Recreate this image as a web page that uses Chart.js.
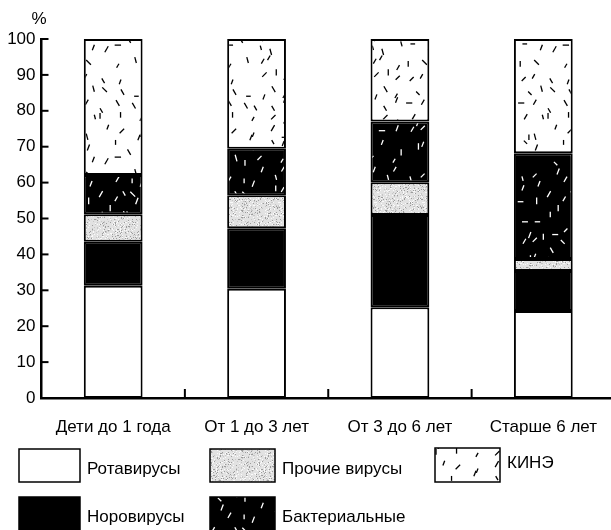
<!DOCTYPE html>
<html>
<head>
<meta charset="utf-8">
<script src="https://cdn.jsdelivr.net/npm/chart.js@4.4.1/dist/chart.umd.min.js"></script>
<style>
  html, body { margin: 0; padding: 0; background: #fff; overflow: hidden; }
  #wrap { width: 620px; height: 530px; position: relative; }
</style>
</head>
<body>
<div id="wrap"><canvas id="myChart"></canvas></div>
<script>
// age groups and % of cases
const categories = ["Дети до 1 года", "От 1 до 3 лет", "От 3 до 6 лет", "Старше 6 лет"];
const rotaviruses = [31.3, 30.4, 25.3, 24.2];
const noroviruses = [12.2, 16.9, 25.7, 11.2];
const otherViruses = [7.7, 9.2, 9.1, 3.3];
const bacterial = [10.9, 12.9, 16.9, 29.5];
const unknown = [37.9, 30.6, 23.0, 31.8];
const yTicks = [0, 10, 20, 30, 40, 50, 60, 70, 80, 90, 100];

const FONT = "'Liberation Sans', Arial, sans-serif";

// small fixed generator so the textures look the same every time
let seed = 23;
function rnd() {
    seed = (seed * 1103515245 + 12345) % 2147483648;
    return seed / 2147483648;
}

// short dashes scattered on a loosely jittered grid
function dashPattern(bg, fg) {
    const cell = 14, n = 8, size = cell * n;
    const c = document.createElement("canvas");
    c.width = size; c.height = size;
    const g = c.getContext("2d");
    g.fillStyle = bg;
    g.fillRect(0, 0, size, size);
    g.strokeStyle = fg;
    g.lineWidth = 1.3;
    const angles = [Math.PI / 2, Math.PI / 4, -Math.PI / 4, 0, Math.PI / 3, -Math.PI / 3, Math.PI / 2.4, -Math.PI / 2.6];
    for (let i = 0; i < n; i++) {
        for (let j = 0; j < n; j++) {
            if (rnd() < 0.12) continue;
            const x = i * cell + 1 + rnd() * (cell - 2);
            const y = j * cell + 1 + rnd() * (cell - 2);
            const a = angles[Math.floor(rnd() * angles.length)];
            const len = 4.5 + rnd() * 2.5;
            for (const dx of [-size, 0, size]) {
                for (const dy of [-size, 0, size]) {
                    g.beginPath();
                    g.moveTo(x + dx - Math.cos(a) * len / 2, y + dy - Math.sin(a) * len / 2);
                    g.lineTo(x + dx + Math.cos(a) * len / 2, y + dy + Math.sin(a) * len / 2);
                    g.stroke();
                }
            }
        }
    }
    return g.createPattern(c, "repeat");
}

function stipplePattern() {
    const c = document.createElement("canvas");
    c.width = 48; c.height = 48;
    const g = c.getContext("2d");
    g.fillStyle = "#e2e2e2";
    g.fillRect(0, 0, 48, 48);
    for (let i = 0; i < 480; i++) {
        g.fillStyle = rnd() < 0.45 ? "#9c9c9c" : "#c6c6c6";
        g.fillRect(Math.floor(rnd() * 48), Math.floor(rnd() * 48), 1, 1);
    }
    for (let i = 0; i < 260; i++) {
        g.fillStyle = "#fafafa";
        g.fillRect(Math.floor(rnd() * 48), Math.floor(rnd() * 48), 1, 1);
    }
    return g.createPattern(c, "repeat");
}

const kinePattern = dashPattern("#ffffff", "#000000");
const bactPattern = dashPattern("#000000", "#ffffff");
const grayPattern = stipplePattern();

// inside ticks, % sign and the two-row legend
const decorPlugin = {
    id: "decor",
    afterDraw(chart) {
        const ctx = chart.ctx;
        const x = chart.scales.x, y = chart.scales.y;
        const area = chart.chartArea;
        ctx.save();
        ctx.strokeStyle = "#000";
        ctx.lineWidth = 2;
        yTicks.forEach((v) => {
            const py = y.getPixelForValue(v);
            ctx.beginPath();
            ctx.moveTo(area.left, py);
            ctx.lineTo(area.left + 7, py);
            ctx.stroke();
        });
        for (let i = 0; i < categories.length; i++) {
            const px = i < categories.length - 1
                ? (x.getPixelForValue(i) + x.getPixelForValue(i + 1)) / 2
                : area.right;
            ctx.beginPath();
            ctx.moveTo(px, area.bottom);
            ctx.lineTo(px, area.bottom - 9);
            ctx.stroke();
        }
        ctx.fillStyle = "#000";
        ctx.font = "17px " + FONT;
        ctx.textAlign = "center";
        ctx.textBaseline = "middle";
        ctx.fillText("%", 39, 19);

        // legend, order as in the picture
        const slots = [
            { ds: 0, bx: 19, by: 449, bw: 61, bh: 33, ty: 469 },
            { ds: 2, bx: 210, by: 449, bw: 65, bh: 33, ty: 469 },
            { ds: 4, bx: 435, by: 448, bw: 65, bh: 34, ty: 463 },
            { ds: 1, bx: 19, by: 497, bw: 61, bh: 36, ty: 517 },
            { ds: 3, bx: 210, by: 497, bw: 65, bh: 36, ty: 517 },
        ];
        ctx.textAlign = "left";
        slots.forEach((s) => {
            const ds = chart.data.datasets[s.ds];
            ctx.fillStyle = ds.backgroundColor;
            ctx.fillRect(s.bx, s.by, s.bw, s.bh);
            ctx.lineWidth = 1.5;
            ctx.strokeRect(s.bx, s.by, s.bw, s.bh);
            ctx.fillStyle = "#000";
            ctx.fillText(ds.label, s.bx + s.bw + 7, s.ty);
        });
        ctx.restore();
    },
};

const ctx = document.getElementById("myChart");
const common = { borderColor: "#000", borderWidth: 2, borderSkipped: false, barPercentage: 0.41, categoryPercentage: 1 };
new Chart(ctx, {
    type: "bar",
    data: {
        labels: categories,
        datasets: [
            { label: "Ротавирусы", data: rotaviruses, backgroundColor: "#ffffff", ...common },
            { label: "Норовирусы", data: noroviruses, backgroundColor: "#000000", ...common },
            { label: "Прочие вирусы", data: otherViruses, backgroundColor: grayPattern, ...common },
            { label: "Бактериальные", data: bacterial, backgroundColor: bactPattern, ...common },
            { label: "КИНЭ", data: unknown, backgroundColor: kinePattern, ...common },
        ],
    },
    options: {
        responsive: true,
        maintainAspectRatio: false,
        animation: false,
        layout: { padding: { top: 39, right: 5, bottom: 92, left: 0 } },
        plugins: {
            legend: { display: false },
            tooltip: { enabled: false },
        },
        scales: {
            x: {
                stacked: true,
                grid: { display: false, drawTicks: false },
                border: { display: true, color: "#000", width: 2.5 },
                ticks: { color: "#000", padding: 19, maxRotation: 0, font: { family: FONT, size: 17 } },
                afterFit(scale) { scale.height = 40; },
            },
            y: {
                stacked: true,
                min: 0,
                max: 100,
                grid: { display: false, drawTicks: false },
                border: { display: true, color: "#000", width: 2.5 },
                ticks: { color: "#000", stepSize: 10, padding: 6, font: { family: FONT, size: 17 } },
                afterFit(scale) { scale.width = 41.5; },
            },
        },
    },
    plugins: [decorPlugin],
});
</script>
</body>
</html>
